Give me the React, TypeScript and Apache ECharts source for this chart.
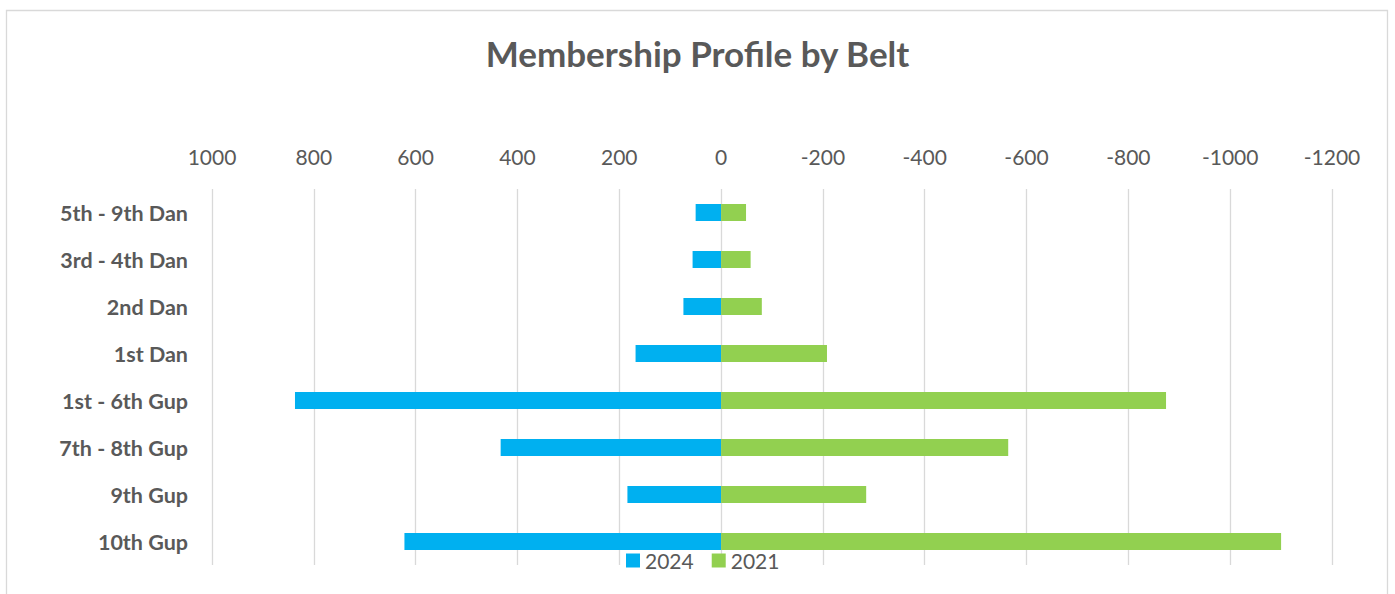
import React, { useEffect, useRef } from "react";
import * as echarts from "echarts";

const categories = [
  "5th - 9th Dan",
  "3rd - 4th Dan",
  "2nd Dan",
  "1st Dan",
  "1st - 6th Gup",
  "7th - 8th Gup",
  "9th Gup",
  "10th Gup",
];
const values2024 = [50, 56, 74, 168, 837, 433, 184, 622];
const values2021 = [-49, -58, -80, -208, -874, -564, -285, -1100];
const seriesNames = ["2024", "2021"];

export default function App() {
  const ref = useRef<HTMLDivElement>(null);
  useEffect(() => {
    if (!ref.current) return;
    const chart = echarts.init(ref.current, undefined, { renderer: "svg" });
    const font = "Lato, 'Open Sans', sans-serif";
    chart.setOption({
      animation: false,
      backgroundColor: "#ffffff",
      title: {
        text: "Membership Profile by Belt",
        left: "center",
        top: 30,
        textStyle: { fontFamily: font, fontSize: 35, fontWeight: "bold", color: "#595959" },
      },
      graphic: [
        {
          type: "rect",
          shape: { x: 6.5, y: 10.5, width: 1381, height: 620 },
          style: { fill: "none", stroke: "#d9d9d9", lineWidth: 1.3 },
          silent: true,
        },
      ],
      legend: {
        data: seriesNames,
        bottom: 18,
        left: 621,
        icon: "rect",
        itemWidth: 14,
        itemHeight: 14,
        itemGap: 18,
        textStyle: { fontFamily: font, fontSize: 21, color: "#595959" },
      },
      grid: { left: 212, right: 63, top: 189, height: 376, containLabel: false },
      xAxis: {
        type: "value",
        position: "top",
        inverse: true,
        min: -1200,
        max: 1000,
        interval: 200,
        axisLine: { show: false },
        axisTick: { show: false },
        axisLabel: {
          fontFamily: font,
          fontSize: 21,
          color: "#595959",
          margin: 22,
          formatter: (v: number) => String(v),
        },
        splitLine: { show: true, lineStyle: { color: "#d9d9d9", width: 1.3 } },
      },
      yAxis: {
        type: "category",
        inverse: true,
        data: categories,
        axisLine: { show: false },
        axisTick: { show: false },
        axisLabel: {
          fontFamily: font,
          fontSize: 21.5,
          fontWeight: "bold",
          color: "#595959",
          margin: 24,
        },
      },
      series: [
        {
          name: seriesNames[0],
          type: "bar",
          stack: "total",
          data: values2024,
          barWidth: 17,
          itemStyle: { color: "#00B0F0" },
        },
        {
          name: seriesNames[1],
          type: "bar",
          stack: "total",
          data: values2021,
          barWidth: 17,
          itemStyle: { color: "#92D050" },
        },
      ],
    });
    return () => chart.dispose();
  }, []);
  return (
    <div
      ref={ref}
      style={{ position: "absolute", left: 0, top: 0, width: 1395, height: 594 }}
    />
  );
}
